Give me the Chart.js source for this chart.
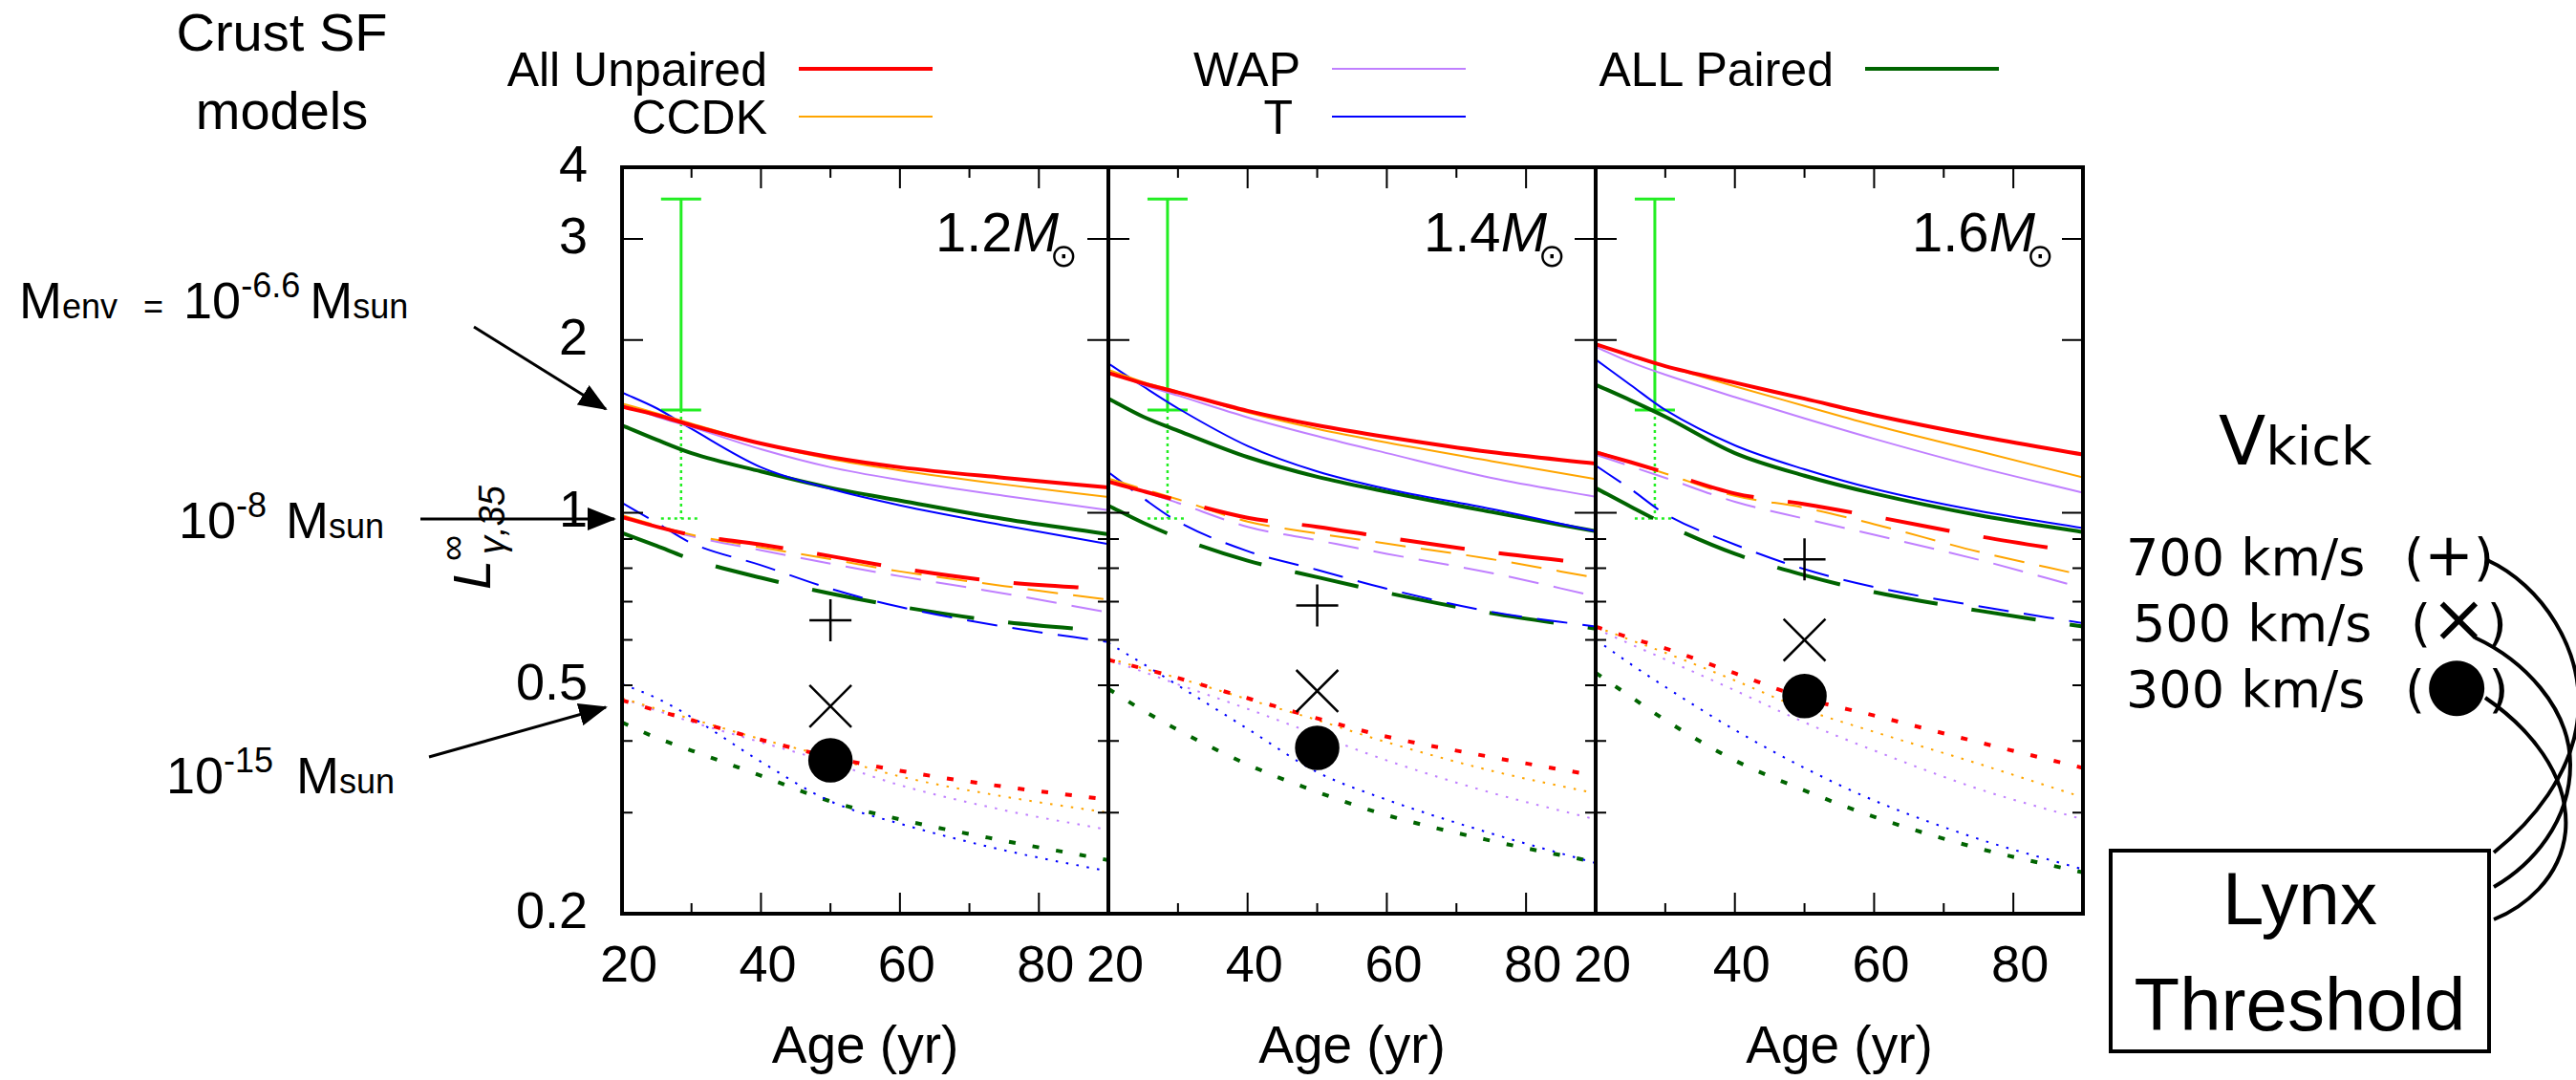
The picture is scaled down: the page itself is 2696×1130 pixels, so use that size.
<!DOCTYPE html>
<html>
<head>
<meta charset="utf-8">
<script src="https://cdn.jsdelivr.net/npm/chart.js@4.4.1/dist/chart.umd.min.js"></script>
<style>
html, body { margin: 0; padding: 0; background: #fff; }
#page { position: relative; width: 2696px; height: 1130px; overflow: hidden; font-family: 'Liberation Sans', Arial, sans-serif; color: #000; }
canvas { position: absolute; }
.t { position: absolute; white-space: nowrap; line-height: 1; }
.s { font-size: 36px; }
.up { font-size: 36px; position: relative; top: -22px; }
.dv { font-family: 'DejaVu Sans', sans-serif; }
.sun { font-family: 'DejaVu Sans', sans-serif; font-size: 34px; font-style: italic; position: relative; top: 16px; margin-left: -9px; }
#lynx { position: absolute; left: 2207px; top: 888px; width: 392px; height: 206px; border: 4px solid #000; }
svg { position: absolute; left: 0; top: 0; }
</style>
</head>
<body>
<div id="page">
  <canvas id="c12" width="680" height="1035" style="left:540px;top:95px"></canvas>
  <canvas id="c14" width="650" height="1035" style="left:1080px;top:95px"></canvas>
  <canvas id="c16" width="650" height="1035" style="left:1590px;top:95px"></canvas>

  <div class="t" style="left:95px;width:400px;text-align:center;top:6px;font-size:56px">Crust SF</div>
  <div class="t" style="left:95px;width:400px;text-align:center;top:88px;font-size:56px">models</div>

  <div class="t" style="left:20px;top:287px;font-size:54px">M<span class="s">env</span><span class="s" style="margin:0 21px 0 27px">=</span>10<span class="up">-6.6</span><span style="margin-left:10px">M</span><span class="s">sun</span></div>
  <div class="t" style="left:187px;top:517px;font-size:54px">10<span class="up">-8</span><span style="margin-left:20px">M</span><span class="s">sun</span></div>
  <div class="t" style="left:174px;top:784px;font-size:54px">10<span class="up">-15</span><span style="margin-left:24px">M</span><span class="s">sun</span></div>

  <div class="t" id="ytitle" style="left:466px;top:617px;font-size:56px;font-style:italic;transform:rotate(-90deg);transform-origin:left top">L<span style="position:absolute;left:30px;top:-12px;font-size:38px;font-style:normal">∞</span><span style="position:absolute;left:37px;top:30px;font-size:38px"><i>γ</i>,35</span></div>

  <div class="t" style="left:979px;top:214px;font-size:58px">1.2<i>M</i><span class="sun">⊙</span></div>
  <div class="t" style="left:1490px;top:214px;font-size:58px">1.4<i>M</i><span class="sun">⊙</span></div>
  <div class="t" style="left:2001px;top:214px;font-size:58px">1.6<i>M</i><span class="sun">⊙</span></div>

  <div class="t dv" style="left:2322px;top:425px;font-size:72px">V<span style="font-size:56px">kick</span></div>
  <div class="t dv" style="left:2225px;top:557px;font-size:54px">700 km/s</div>
  <div class="t dv" style="left:2516px;top:557px;font-size:54px">(<span style="font-size:62px;line-height:0">+</span>)</div>
  <div class="t dv" style="left:2232px;top:626px;font-size:54px">500 km/s</div>
  <div class="t dv" style="left:2523px;top:626px;font-size:54px">(<span style="font-size:70px;line-height:0">×</span>)</div>
  <div class="t dv" style="left:2225px;top:695px;font-size:54px">300 km/s</div>
  <div class="t dv" style="left:2517px;top:695px;font-size:54px">(<span style="font-size:76px;line-height:0">●</span>)</div>

  <div id="lynx"></div>
  <div class="t" style="left:2207px;width:400px;text-align:center;top:901px;font-size:78px">Lynx</div>
  <div class="t" style="left:2207px;width:400px;text-align:center;top:1012px;font-size:78px">Threshold</div>

  <svg width="2696" height="1130">
    <defs>
      <marker id="ah" viewBox="0 0 30 24" markerWidth="30" markerHeight="24" refX="28" refY="12" orient="auto" markerUnits="userSpaceOnUse">
        <path d="M0,0 L30,12 L0,24 z" fill="#000"/>
      </marker>
    </defs>
    <line x1="496" y1="342" x2="634" y2="428" stroke="#000" stroke-width="3" marker-end="url(#ah)"/>
    <line x1="440" y1="543" x2="643" y2="543" stroke="#000" stroke-width="3" marker-end="url(#ah)"/>
    <line x1="449" y1="792" x2="634" y2="740" stroke="#000" stroke-width="3" marker-end="url(#ah)"/>
    <g fill="none" stroke="#000" stroke-width="4">
      <path d="M2603,586 C2660,612 2705,680 2698,750 C2692,810 2650,860 2610,892"/>
      <path d="M2590,667 C2640,690 2690,740 2690,800 C2690,860 2650,905 2610,928"/>
      <path d="M2601,730 C2645,760 2690,810 2685,870 C2680,920 2640,950 2610,962"/>
    </g>
  </svg>
</div>

<script>
const ages = [20, 25, 30, 40, 50, 60, 75, 90];
const models = ['All Unpaired', 'CCDK', 'WAP', 'T', 'ALL Paired'];

// rows follow models; Env66 = 10^-6.6, Env8 = 10^-8, Env15 = 10^-15 Msun
const m12Env66 = [
  [1.53, 1.48, 1.42, 1.32, 1.25, 1.20, 1.15, 1.107],
  [1.55, 1.49, 1.43, 1.32, 1.24, 1.185, 1.12, 1.065],
  [1.545, 1.47, 1.41, 1.29, 1.20, 1.14, 1.07, 1.01],
  [1.62, 1.52, 1.40, 1.20, 1.10, 1.03, 0.95, 0.882],
  [1.42, 1.34, 1.27, 1.18, 1.105, 1.05, 0.975, 0.917]
];
const m12Env8 = [
  [0.983, 0.945, 0.915, 0.88, 0.84, 0.80, 0.757, 0.736],
  [0.99, 0.95, 0.915, 0.87, 0.83, 0.79, 0.745, 0.705],
  [0.985, 0.945, 0.91, 0.86, 0.815, 0.775, 0.723, 0.67],
  [1.04, 0.96, 0.885, 0.81, 0.737, 0.685, 0.633, 0.595],
  [0.922, 0.875, 0.83, 0.77, 0.723, 0.686, 0.645, 0.621]
];
const m12Env15 = [
  [0.471, 0.452, 0.435, 0.402, 0.375, 0.355, 0.333, 0.316],
  [0.475, 0.455, 0.437, 0.403, 0.375, 0.347, 0.32, 0.30],
  [0.475, 0.452, 0.432, 0.398, 0.367, 0.335, 0.303, 0.28],
  [0.503, 0.475, 0.44, 0.368, 0.314, 0.287, 0.258, 0.237],
  [0.431, 0.405, 0.385, 0.348, 0.314, 0.292, 0.268, 0.248]
];

const m14Env66 = [
  [1.752, 1.68, 1.62, 1.505, 1.42, 1.355, 1.275, 1.218],
  [1.775, 1.69, 1.625, 1.495, 1.40, 1.325, 1.23, 1.144],
  [1.763, 1.67, 1.60, 1.466, 1.36, 1.27, 1.15, 1.066],
  [1.82, 1.66, 1.52, 1.307, 1.18, 1.10, 1.015, 0.928],
  [1.581, 1.47, 1.39, 1.25, 1.155, 1.088, 1.003, 0.928]
];
const m14Env8 = [
  [1.133, 1.09, 1.05, 0.98, 0.945, 0.905, 0.853, 0.813],
  [1.147, 1.10, 1.055, 0.965, 0.92, 0.883, 0.83, 0.77],
  [1.14, 1.09, 1.04, 0.945, 0.895, 0.848, 0.785, 0.715],
  [1.177, 1.06, 0.965, 0.857, 0.795, 0.737, 0.672, 0.633],
  [1.029, 0.96, 0.905, 0.825, 0.772, 0.725, 0.668, 0.628]
];
const m14Env15 = [
  [0.554, 0.535, 0.515, 0.475, 0.438, 0.407, 0.375, 0.348],
  [0.558, 0.535, 0.515, 0.473, 0.435, 0.398, 0.355, 0.324],
  [0.554, 0.528, 0.502, 0.455, 0.41, 0.37, 0.325, 0.292],
  [0.593, 0.545, 0.50, 0.42, 0.353, 0.316, 0.276, 0.245],
  [0.493, 0.452, 0.418, 0.364, 0.326, 0.297, 0.268, 0.246]
];

const m16Env66 = [
  [1.966, 1.88, 1.80, 1.685, 1.58, 1.48, 1.36, 1.263],
  [1.97, 1.875, 1.80, 1.66, 1.535, 1.42, 1.28, 1.152],
  [1.946, 1.83, 1.74, 1.59, 1.46, 1.345, 1.20, 1.083],
  [1.849, 1.67, 1.51, 1.31, 1.19, 1.10, 1.007, 0.94],
  [1.671, 1.57, 1.47, 1.27, 1.16, 1.08, 0.99, 0.925]
];
const m16Env8 = [
  [1.274, 1.225, 1.175, 1.08, 1.035, 0.985, 0.91, 0.85],
  [1.28, 1.225, 1.17, 1.07, 1.02, 0.955, 0.855, 0.778],
  [1.262, 1.205, 1.15, 1.045, 0.976, 0.915, 0.828, 0.739],
  [1.208, 1.10, 0.995, 0.88, 0.797, 0.742, 0.687, 0.642],
  [1.104, 1.025, 0.955, 0.848, 0.778, 0.727, 0.675, 0.633]
];
const m16Env15 = [
  [0.633, 0.605, 0.58, 0.525, 0.475, 0.443, 0.398, 0.359],
  [0.633, 0.60, 0.57, 0.51, 0.454, 0.415, 0.365, 0.319],
  [0.628, 0.59, 0.555, 0.49, 0.431, 0.385, 0.33, 0.292],
  [0.601, 0.545, 0.497, 0.418, 0.359, 0.315, 0.27, 0.239],
  [0.526, 0.478, 0.435, 0.37, 0.328, 0.295, 0.26, 0.236]
];

// kick velocity markers at 50 yr, one value per panel (1.2, 1.4, 1.6 Msun)
const kickAge = 50;
const kick700 = [0.649, 0.689, 0.829];
const kick500 = [0.46, 0.489, 0.60];
const kick300 = [0.37, 0.389, 0.479];

// green observational bar (same in every panel)
const obsAge = 28.5;
const obsRange = [1.51, 3.52];
const obsLimit = 0.977;

const xTickVals = [20, 30, 40, 50, 60, 70, 80, 90];
const xLabelVals = [20, 40, 60, 80];
const yTickVals = [0.2, 0.3, 0.4, 0.5, 0.6, 0.7, 0.8, 0.9, 1, 2, 3, 4];
const yLabelVals = [0.2, 0.5, 1, 2, 3, 4];
const yMajor = [1, 2, 3];

const colors = ['#ff0000', '#ffa500', '#c080ff', '#0000ff', '#006400'];
const thick = [true, false, false, false, true];

const solidStyle = { name: 'solid', thickDash: [], thinDash: [] };
const dashStyle = { name: 'dashed', thickDash: [68, 36], thinDash: [32, 16] };
const dotStyle = { name: 'dotted', thickDash: [7, 18], thinDash: [2.5, 8.5] };

Chart.defaults.font.family = "'Liberation Sans', Arial, sans-serif";
Chart.defaults.color = '#000';

function lineSets(rows, style) {
    return rows.map((vals, i) => ({
        label: models[i] + ' ' + style.name,
        data: vals.map((v, j) => ({ x: ages[j], y: v })),
        borderColor: colors[i],
        borderWidth: thick[i] ? 4 : 2,
        borderDash: thick[i] ? style.thickDash : style.thinDash,
        pointRadius: 0,
        fill: false,
        cubicInterpolationMode: 'monotone'
    }));
}

function markerSet(value, style, radius) {
    return {
        type: 'scatter',
        label: 'kick',
        data: [{ x: kickAge, y: value }],
        pointStyle: style,
        pointRadius: radius,
        borderColor: '#000',
        backgroundColor: '#000',
        borderWidth: 2.5
    };
}

// frame with gnuplot-like inward ticks on all four sides
const framePlugin = {
    id: 'frame',
    afterDatasetsDraw(chart) {
        const { ctx, chartArea: a, scales: { x, y } } = chart;
        ctx.save();
        ctx.strokeStyle = '#000';
        ctx.lineWidth = 2;
        ctx.beginPath();
        xTickVals.slice(1, -1).forEach(v => {
            const px = x.getPixelForValue(v);
            const len = xLabelVals.includes(v) ? 22 : 11;
            ctx.moveTo(px, a.bottom); ctx.lineTo(px, a.bottom - len);
            ctx.moveTo(px, a.top); ctx.lineTo(px, a.top + len);
        });
        yTickVals.slice(1, -1).forEach(v => {
            const py = y.getPixelForValue(v);
            const len = yMajor.includes(v) ? 22 : 11;
            ctx.moveTo(a.left, py); ctx.lineTo(a.left + len, py);
            ctx.moveTo(a.right, py); ctx.lineTo(a.right - len, py);
        });
        ctx.stroke();
        ctx.lineWidth = 4;
        ctx.strokeRect(a.left, a.top, a.right - a.left, a.bottom - a.top);
        ctx.restore();
    }
};

// observational range: solid bar with caps, dotted extension below
const obsPlugin = {
    id: 'obs',
    beforeDatasetsDraw(chart) {
        const { ctx, scales: { x, y } } = chart;
        const px = x.getPixelForValue(obsAge);
        const yHi = y.getPixelForValue(obsRange[1]);
        const yLo = y.getPixelForValue(obsRange[0]);
        const yLim = y.getPixelForValue(obsLimit);
        const cap = 21;
        ctx.save();
        ctx.strokeStyle = '#22ee22';
        ctx.lineWidth = 3;
        ctx.beginPath();
        ctx.moveTo(px, yHi); ctx.lineTo(px, yLo);
        ctx.moveTo(px - cap, yHi); ctx.lineTo(px + cap, yHi);
        ctx.moveTo(px - cap, yLo); ctx.lineTo(px + cap, yLo);
        ctx.stroke();
        ctx.setLineDash([3, 4]);
        ctx.lineWidth = 2.5;
        ctx.beginPath();
        ctx.moveTo(px, yLo); ctx.lineTo(px, yLim);
        ctx.moveTo(px - cap, yLim); ctx.lineTo(px + cap, yLim);
        ctx.stroke();
        ctx.restore();
    }
};

function makePanel(id, p, env66, env8, env15) {
    const first = p === 0;
    const tickFont = { size: 54 };
    return new Chart(document.getElementById(id), {
        type: 'line',
        data: {
            datasets: [
                markerSet(kick300[p], 'circle', 22),
                markerSet(kick500[p], 'crossRot', 31),
                markerSet(kick700[p], 'cross', 22),
                ...lineSets(env66, solidStyle),
                ...lineSets(env8, dashStyle),
                ...lineSets(env15, dotStyle)
            ]
        },
        options: {
            responsive: false,
            animation: false,
            // generous padding so the label overhang never moves the plot area
            layout: { padding: { left: first ? 0 : 80, top: 80, right: 60, bottom: 0 } },
            plugins: { legend: { display: false }, tooltip: { enabled: false } },
            scales: {
                x: {
                    type: 'linear',
                    min: 20,
                    max: 90,
                    afterBuildTicks: s => { s.ticks = xTickVals.map(v => ({ value: v })); },
                    afterFit: s => { s.height = 174; },
                    grid: { display: false, drawTicks: false },
                    border: { display: false },
                    ticks: {
                        font: tickFont,
                        padding: 24,
                        labelOffset: 7,
                        maxRotation: 0,
                        autoSkip: false,
                        callback: v => xLabelVals.includes(v) ? String(v) : ''
                    },
                    title: { display: true, text: 'Age (yr)', font: { size: 55 }, padding: 0 }
                },
                y: {
                    type: 'logarithmic',
                    min: 0.2,
                    max: 4,
                    display: first,
                    afterBuildTicks: s => { s.ticks = yTickVals.map(v => ({ value: v })); },
                    afterFit: s => { if (first) s.width = 111; },
                    grid: { display: false, drawTicks: false },
                    border: { display: false },
                    ticks: {
                        font: tickFont,
                        padding: 36,
                        autoSkip: false,
                        callback: v => yLabelVals.includes(v) ? String(v) : ''
                    }
                }
            }
        },
        plugins: [obsPlugin, framePlugin]
    });
}

makePanel('c12', 0, m12Env66, m12Env8, m12Env15);
makePanel('c14', 1, m14Env66, m14Env8, m14Env15);
makePanel('c16', 2, m16Env66, m16Env8, m16Env15);

// legend: label right-aligned, sample line to its right
const legendSpots = [
    { end: 803, y: 72 }, { end: 803, y: 122 },
    { end: 1361, y: 72 }, { end: 1353, y: 122 },
    { end: 1919, y: 72 }
];
const page = document.getElementById('page');
models.forEach((name, i) => {
    const spot = legendSpots[i];
    const txt = document.createElement('div');
    txt.className = 't';
    txt.textContent = name;
    txt.style.fontSize = '50px';
    txt.style.right = (2696 - spot.end) + 'px';
    txt.style.top = (spot.y + 18 - 42) + 'px';
    page.appendChild(txt);
    const w = thick[i] ? 4 : 2;
    const ln = document.createElement('div');
    ln.style.position = 'absolute';
    ln.style.left = (spot.end + 33 + (i === 3 ? 8 : 0)) + 'px';
    ln.style.width = '140px';
    ln.style.top = (spot.y - w / 2) + 'px';
    ln.style.height = w + 'px';
    ln.style.background = colors[i];
    page.appendChild(ln);
});
</script>
</body>
</html>
